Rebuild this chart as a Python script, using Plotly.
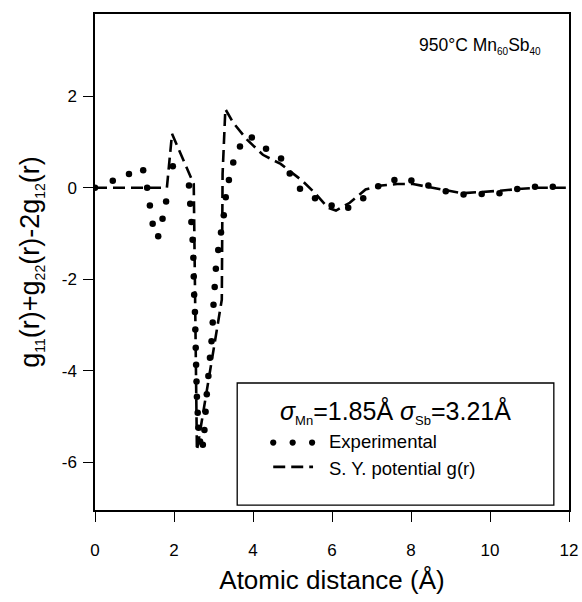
import plotly.graph_objects as go

# Experimental difference function g11 + g22 - 2 g12
exp_r = [0.0, 0.45, 0.86, 1.22, 1.32, 1.39, 1.46, 1.60, 1.71, 1.80, 1.97,
         2.38, 2.41, 2.44, 2.47, 2.49, 2.50, 2.51, 2.53, 2.54, 2.55, 2.56,
         2.57, 2.58, 2.60, 2.62, 2.66, 2.73,
         2.77, 2.80, 2.83, 2.87, 2.91, 2.95, 2.98, 3.00, 3.03, 3.06, 3.12,
         3.19, 3.26, 3.31, 3.39, 3.50, 3.67, 3.97, 4.33, 4.71, 4.93, 5.19,
         5.57, 5.99, 6.41, 6.79, 7.17, 7.58, 8.01, 8.44, 8.88, 9.33, 9.79,
         10.24, 10.69, 11.14, 11.59]
exp_g = [0.0, 0.15, 0.30, 0.38, 0.0, -0.39, -0.79, -1.06, -0.68, -0.30, 0.47,
         0.05, -0.35, -0.75, -1.14, -1.53, -1.94, -2.34, -2.72, -3.10, -3.50, -3.87,
         -4.24, -4.57, -4.92, -5.25, -5.55, -5.62,
         -5.30, -4.90, -4.52, -4.12, -3.72, -3.36, -2.95, -2.56, -2.17, -1.77, -1.36,
         -0.98, -0.60, -0.21, 0.17, 0.55, 0.90, 1.10, 0.85, 0.64, 0.31, -0.02,
         -0.23, -0.39, -0.44, -0.23, 0.03, 0.17, 0.16, 0.05, -0.08, -0.15, -0.14,
         -0.12, -0.03, 0.02, 0.02]

# Model curve from the S. Y. potential
sy_r = [0.0, 1.82, 1.95, 2.50, 2.58, 3.21, 3.23, 3.30, 3.50, 3.85, 4.25, 4.70,
        5.25, 5.55, 5.90, 6.10, 6.45, 6.85, 7.25, 7.65, 8.05, 8.40, 8.85, 9.30,
        9.75, 10.20, 10.70, 11.20, 12.0]
sy_g = [0.0, 0.0, 1.18, 0.08, -5.75, -2.45, 0.30, 1.72, 1.42, 1.05, 0.72, 0.52,
        0.15, -0.10, -0.44, -0.50, -0.33, -0.04, 0.05, 0.08, 0.08, 0.03, -0.05, -0.12,
        -0.10, -0.07, -0.03, 0.0, 0.0]

x_ticks = [0, 2, 4, 6, 8, 10, 12]
y_ticks = [-6, -4, -2, 0, 2]
y_ticktext = ["-6", "-4", "-2", "0", "2"]

FONT = "Liberation Sans, Arial, sans-serif"
DASH = "12px,6px"


def sub(s, size):
    return f'<sub><span style="font-size:{size}px">{s}</span></sub>'


fig = go.Figure()
fig.add_trace(go.Scatter(x=sy_r, y=sy_g, mode="lines",
                         line=dict(color="black", width=2.6, dash=DASH),
                         showlegend=False))
fig.add_trace(go.Scatter(x=exp_r, y=exp_g, mode="markers",
                         marker=dict(color="black", size=6.5),
                         showlegend=False))

axis_common = dict(showline=True, linecolor="black", linewidth=1.5, mirror=True,
                   showgrid=False, zeroline=False, ticks="outside", ticklen=10,
                   tickwidth=1.2, tickcolor="black",
                   tickfont=dict(family=FONT, size=17, color="black"))

fig.update_xaxes(range=[0, 12], tickvals=x_ticks, ticklabelstandoff=14,
                 title=dict(text="Atomic distance (Å)", standoff=12,
                            font=dict(family=FONT, size=26, color="black")),
                 **axis_common)
fig.update_yaxes(range=[-7.05, 3.8], tickvals=y_ticks, ticktext=y_ticktext,
                 ticklabelstandoff=3,
                 title=dict(text="g" + sub("11", 14) + "(r)+g" + sub("22", 14)
                            + "(r)-2g" + sub("12", 14) + "(r)",
                            standoff=14,
                            font=dict(family=FONT, size=27, color="black")),
                 **axis_common)

# Legend frame and entries
shapes = [
    dict(type="rect", xref="paper", yref="paper", x0=0.30, x1=0.968, y0=0.01, y1=0.256,
         line=dict(color="black", width=1.3), fillcolor="white", layer="above"),
    dict(type="line", xref="paper", yref="paper", x0=0.376, x1=0.46, y0=0.087, y1=0.087,
         line=dict(color="black", width=2.6, dash=DASH), layer="above"),
]
for cx in (0.376, 0.417, 0.458):
    shapes.append(dict(type="circle", xref="paper", yref="paper",
                       x0=cx - 0.0065, x1=cx + 0.0065, y0=0.136 - 0.0063, y1=0.136 + 0.0063,
                       fillcolor="black", line=dict(width=0), layer="above"))

annotations = [
    dict(text="<i>σ</i>" + sub("Mn", 13) + "=1.85Å <i>σ</i>" + sub("Sb", 13) + "=3.21Å",
         xref="paper", yref="paper", x=0.634, y=0.197, showarrow=False,
         xanchor="center", yanchor="middle",
         font=dict(family=FONT, size=25, color="black")),
    dict(text="Experimental", xref="paper", yref="paper", x=0.49, y=0.1385,
         showarrow=False, xanchor="left", yanchor="middle",
         font=dict(family=FONT, size=18.5, color="black")),
    dict(text="S. Y. potential g(r)", xref="paper", yref="paper", x=0.49, y=0.084,
         showarrow=False, xanchor="left", yanchor="middle",
         font=dict(family=FONT, size=18.5, color="black")),
    dict(text="950°C Mn" + sub("60", 10) + "Sb" + sub("40", 10), xref="paper", yref="paper",
         x=0.945, y=0.935, showarrow=False, xanchor="right", yanchor="middle",
         font=dict(family=FONT, size=17.5, color="black")),
]

fig.update_layout(width=582, height=602,
                  margin=dict(l=95, r=13, t=14, b=92, autoexpand=False),
                  paper_bgcolor="white", plot_bgcolor="white",
                  shapes=shapes, annotations=annotations,
                  font=dict(family=FONT, color="black"))

fig.write_html("out.html")
